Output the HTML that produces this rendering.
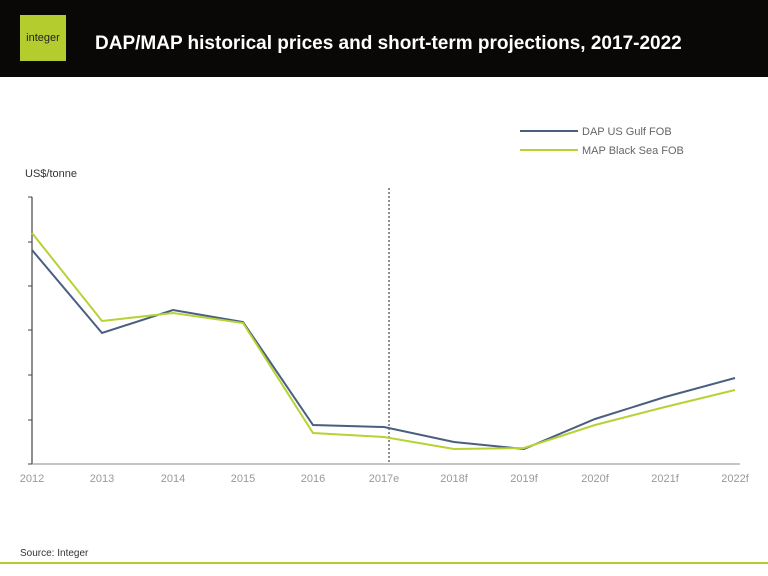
<!DOCTYPE html>
<html><head><meta charset="utf-8"><style>
body{margin:0;width:768px;height:576px;background:#fff;overflow:hidden;font-family:"Liberation Sans",sans-serif;position:relative}
.hdr{position:absolute;left:0;top:0;width:768px;height:77px;background:#0a0707}
.logo{position:absolute;left:20px;top:15px;width:46px;height:46px;background:#b5cc2e;color:#222;font-size:11px;line-height:46px;text-align:center}
.title{position:absolute;left:95px;top:33px;color:#fff;font-weight:bold;font-size:19px}
</style></head><body>
<div class="hdr"><div class="logo">integer</div><div class="title">DAP/MAP historical prices and short-term projections, 2017-2022</div></div>
<svg width="768" height="576" style="position:absolute;left:0;top:0">
<text x="25" y="177" font-size="11" fill="#333">US$/tonne</text>
<line x1="32" y1="197" x2="32" y2="464" stroke="#444" stroke-width="1.2"/>
<line x1="32" y1="464" x2="740" y2="464" stroke="#888" stroke-width="1"/>
<g stroke="#444"><line x1="28" y1="197" x2="32" y2="197"/><line x1="28" y1="242" x2="32" y2="242"/><line x1="28" y1="286" x2="32" y2="286"/><line x1="28" y1="330" x2="32" y2="330"/><line x1="28" y1="375" x2="32" y2="375"/><line x1="28" y1="420" x2="32" y2="420"/><line x1="28" y1="464" x2="32" y2="464"/></g>
<line x1="389" y1="188" x2="389" y2="464" stroke="#222" stroke-dasharray="2,2"/>
<g font-size="11" fill="#999" text-anchor="middle">
<text x="32" y="482">2012</text><text x="102" y="482">2013</text><text x="173" y="482">2014</text><text x="243" y="482">2015</text><text x="313" y="482">2016</text><text x="384" y="482">2017e</text><text x="454" y="482">2018f</text><text x="524" y="482">2019f</text><text x="595" y="482">2020f</text><text x="665" y="482">2021f</text><text x="735" y="482">2022f</text></g>
<polyline fill="none" stroke="#4a5f80" stroke-width="2" points="32,250 102,333 173,310 243,322 313,425 384,427 454,442 524,449 595,419 665,397 735,378"/>
<polyline fill="none" stroke="#b5d334" stroke-width="2" points="32,233 102,321 173,313 243,323 313,433 384,437 454,449 524,448 595,425 665,407 735,390"/>
<line x1="520" y1="131" x2="578" y2="131" stroke="#4a5f80" stroke-width="2"/>
<line x1="520" y1="150" x2="578" y2="150" stroke="#b5d334" stroke-width="2"/>
<text x="582" y="135" font-size="11" fill="#666">DAP US Gulf FOB</text>
<text x="582" y="154" font-size="11" fill="#666">MAP Black Sea FOB</text>
<text x="20" y="556" font-size="10" fill="#333">Source: Integer</text>
<line x1="0" y1="563" x2="768" y2="563" stroke="#b5cc2e" stroke-width="2"/>
</svg>
</body></html>
